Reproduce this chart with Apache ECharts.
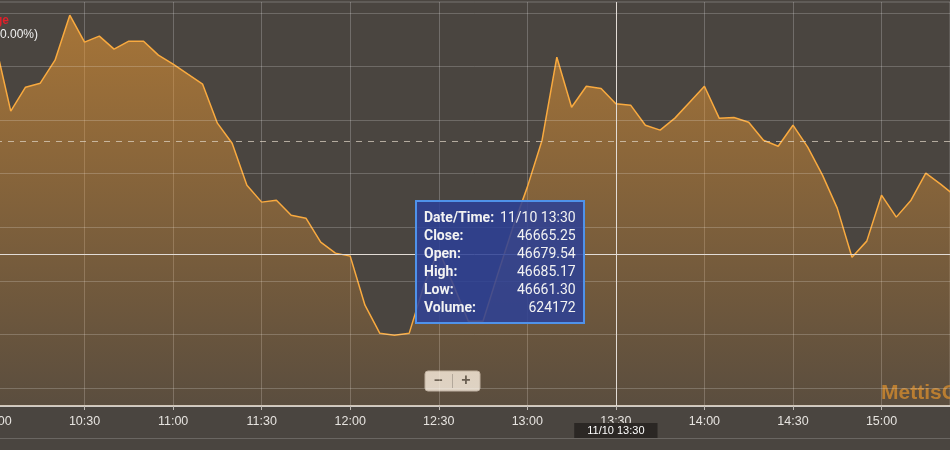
<!DOCTYPE html>
<html><head><meta charset="utf-8">
<script src="https://cdn.jsdelivr.net/npm/echarts@6/dist/echarts.min.js"></script>
<style>html,body{margin:0;padding:0;background:#4a4540;overflow:hidden}#c{width:950px;height:450px}</style>
</head><body><div id="c"></div>
<script>
const sessionDate = '11/10';
const times = ['10:00','10:05','10:10','10:15','10:20','10:25','10:30','10:35','10:40','10:45','10:50','10:55',
  '11:00','11:05','11:10','11:15','11:20','11:25','11:30','11:35','11:40','11:45','11:50','11:55',
  '12:00','12:05','12:10','12:15','12:20','12:25','12:30','12:35','12:40','12:45','12:50','12:55',
  '13:00','13:05','13:10','13:15','13:20','13:25','13:30','13:35','13:40','13:45','13:50','13:55',
  '14:00','14:05','14:10','14:15','14:20','14:25','14:30','14:35','14:40','14:45','14:50','14:55',
  '15:00','15:05','15:10','15:15','15:20','15:25'];
const closes = [46719.1,46658.4,46680.8,46684.5,46706.0,46748.0,46722.8,46728.4,46716.3,46723.7,46723.7,46710.7,
  46702.3,46692.9,46683.6,46647.2,46628.5,46589.3,46573.5,46575.3,46561.3,46558.5,46536.1,46525.9,
  46523.1,46477.3,46451.2,46449.3,46451.2,46496.0,46528.7,46496.0,46462.4,46462.4,46506.3,46549.2,
  46587.5,46631.3,46708.8,46662.1,46681.7,46679.5,46665.25,46664.0,46645.3,46640.7,46651.9,46666.8,
  46681.7,46651.9,46652.5,46648.1,46631.3,46625.7,46645.3,46624.8,46598.7,46567.9,46522.1,46537.1,
  46580.0,46559.5,46575.3,46600.5,46590.3,46579.1];
const gridLevels = [46400,46450,46500,46550,46600,46650,46700,46750];
const prevClose = 46630.4;
const yMin = 46383.2, yMax = 46760.3;
const xMinTime = '10:00', xMaxTime = '15:23.2', tickStepMin = 30;
// tooltip bar shown in the picture
const tipTime = '13:30';
const tipOpen = 46679.54, tipHigh = 46685.17, tipLow = 46661.30, tipVolume = 624172;
const pointerLevel = 46524.9;
const headerRed = 'Change';
const headerSub = '0.00 (0.00%)';
const watermark = 'MettisGlobal';

function toMin(s){const [h,m]=s.split(':');return (+h)*60+parseFloat(m);}
function fmtMin(v){v=Math.round(v);return Math.floor(v/60)+':'+String(v%60).padStart(2,'0');}

const data = times.map((t,i)=>[toMin(t), closes[i]]);
const chart = echarts.init(document.getElementById('c'), null, {renderer:'canvas'});
const AX = '"Liberation Sans", Arial, sans-serif';

chart.setOption({
  animation:false,
  backgroundColor:'#4a4540',
  grid:{left:-4,right:0,top:2,bottom:44,containLabel:false,outerBoundsMode:'none',show:true,borderColor:'rgba(255,255,255,0.25)',borderWidth:1,backgroundColor:'transparent'},
  xAxis:{type:'value',min:toMin(xMinTime),max:toMin(xMaxTime),interval:tickStepMin,
    axisLine:{lineStyle:{color:'#cfcbc6',width:2}},
    axisTick:{show:true,length:4,lineStyle:{color:'#bdb8b2'}},
    axisLabel:{formatter:fmtMin,color:'#e6e3df',fontSize:12.5,fontFamily:AX,margin:9,showMaxLabel:false},
    splitLine:{show:true,lineStyle:{color:'rgba(255,255,255,0.22)',width:1}},
    axisPointer:{snap:true,label:{show:true,formatter:p=>sessionDate+' '+fmtMin(p.value),backgroundColor:'#2b2724',color:'#fff',fontSize:11,fontFamily:AX,padding:[2,13],margin:17,borderRadius:0,shadowBlur:0}}
  },
  yAxis:{type:'value',min:yMin,max:yMax,scale:true,
    axisLine:{show:false},axisTick:{show:false},axisLabel:{show:false},splitLine:{show:false},
    axisPointer:{label:{show:false}}
  },
  tooltip:{trigger:'axis',triggerOn:'none',alwaysShowContent:true,transitionDuration:0,
    position:[415,200],
    backgroundColor:'rgba(44,64,150,0.86)',borderColor:'#4f92ea',borderWidth:2,padding:[6,7],
    extraCssText:'border-radius:0;box-shadow:none;',
    textStyle:{color:'#f2f2f2',fontSize:14,fontFamily:'Roboto, sans-serif'},
    axisPointer:{type:'cross',lineStyle:{color:'#e2dcd6',width:1,type:'solid'},crossStyle:{color:'#e2dcd6',width:1,type:'solid'}},
    formatter:params=>{
      const p=params[0];
      const rows=[['Date/Time:',sessionDate+' '+fmtMin(p.value[0])],['Close:',p.value[1].toFixed(2)],['Open:',tipOpen.toFixed(2)],
        ['High:',tipHigh.toFixed(2)],['Low:',tipLow.toFixed(2)],['Volume:',String(tipVolume)]];
      return '<table style="border-collapse:collapse;line-height:18px;font-size:14px;font-family:Roboto,sans-serif;color:#f2f2f2">'+
        rows.map(r=>'<tr><td style="font-weight:bold;padding:0 6px 0 0">'+r[0]+'</td><td style="text-align:right;padding:0">'+r[1]+'</td></tr>').join('')+'</table>';
    }
  },
  series:[{type:'line',data:data,showSymbol:false,symbol:'none',
    lineStyle:{color:'#e39b3a',width:1.5},
    areaStyle:{origin:'start',color:new echarts.graphic.LinearGradient(0,0,0,1,[{offset:0,color:'rgba(218,140,45,0.8)'},{offset:1,color:'rgba(218,140,45,0.14)'}])},
    markLine:{silent:true,symbol:'none',label:{show:false},animation:false,
      lineStyle:{color:'rgba(255,255,255,0.2)',type:'solid',width:1},
      data:gridLevels.map(v=>({yAxis:v})).concat([{yAxis:prevClose,lineStyle:{color:'rgba(225,215,200,0.7)',type:[6,6],width:1}}])
    }
  }],
  graphic:[
    {type:'text',x:9,y:21,style:{text:headerRed,textAlign:'right',textVerticalAlign:'middle',fill:'#e0202a',font:'bold 12px '+AX}},
    {type:'text',x:38,y:35,style:{text:headerSub,textAlign:'right',textVerticalAlign:'middle',fill:'#f0f0f0',font:'12px '+AX}},
    {type:'text',x:881,y:393,style:{text:watermark,textVerticalAlign:'middle',fill:'rgba(205,135,45,0.8)',font:'bold 21px '+AX}},
    {type:'line',shape:{x1:0,y1:438.5,x2:950,y2:438.5},style:{stroke:'rgba(255,255,255,0.18)',lineWidth:1}},
    {type:'group',x:425,y:371,children:[
      {type:'rect',shape:{x:0,y:0,width:55,height:20,r:3},style:{fill:'#dcdad7',stroke:'#b8b4b0'}},
      {type:'line',shape:{x1:27.5,y1:3,x2:27.5,y2:17},style:{stroke:'#aaa'}},
      {type:'text',x:13.5,y:10,style:{text:'−',textAlign:'center',textVerticalAlign:'middle',fill:'#555',font:'bold 15px '+AX}},
      {type:'text',x:41,y:10,style:{text:'+',textAlign:'center',textVerticalAlign:'middle',fill:'#555',font:'bold 16px '+AX}}
    ]}
  ]
});
const px = chart.convertToPixel({gridIndex:0},[toMin(tipTime),pointerLevel]);
chart.dispatchAction({type:'showTip',x:px[0],y:px[1]});
</script></body></html>
